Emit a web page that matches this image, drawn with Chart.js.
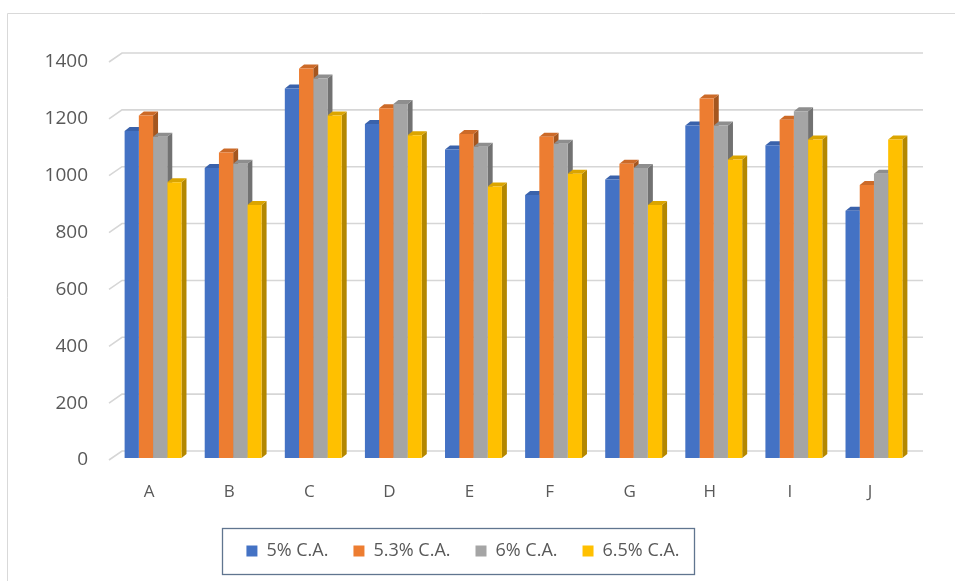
<!DOCTYPE html>
<html>
<head>
<meta charset="utf-8">
<script src="https://cdn.jsdelivr.net/npm/chart.js@4.4.1/dist/chart.umd.min.js"></script>
<style>
  html, body { margin: 0; padding: 0; background: #ffffff; }
  #wrap { width: 955px; height: 581px; position: relative; }
</style>
</head>
<body>
<div id="wrap"><canvas id="chart" width="955" height="581"></canvas></div>
<script>
// Categories and the four series
const categories = ['A', 'B', 'C', 'D', 'E', 'F', 'G', 'H', 'I', 'J'];
const seriesNames = ['5% C.A.', '5.3% C.A.', '6% C.A.', '6.5% C.A.'];
const ca50 = [1150, 1020, 1300, 1175, 1085, 925, 980, 1170, 1100, 870];
const ca53 = [1205, 1075, 1370, 1230, 1140, 1130, 1035, 1265, 1190, 960];
const ca60 = [1130, 1035, 1335, 1245, 1095, 1105, 1020, 1170, 1220, 1000];
const ca65 = [970, 890, 1205, 1135, 955, 1000, 890, 1050, 1120, 1120];
const yMin = 0, yMax = 1400, yStep = 200;

// Styling
const FONT = "'Open Sans', 'Noto Sans', sans-serif";
const TEXT_COLOR = '#595959';
const faceColors = ['#4472C4', '#ED7D31', '#A5A5A5', '#FFC000'];
const topColors  = ['#3A62AB', '#CC6A28', '#8E8E8E', '#DBA500'];
const sideColors = ['#2C4F8E', '#A4561F', '#727272', '#B38700'];

const WALL_DX = 13, WALL_DY = 9;     // depth of the back wall
const COL_DX = 5, COL_DY = 4;        // depth of each column
const SHIFT_X = 4, SHIFT_Y = -2;     // columns stand mid-depth on the floor
const LEGEND_CX = 463, LEGEND_CY = 551;

const seriesData = [ca50, ca53, ca60, ca65];

const pseudo3d = {
  id: 'pseudo3d',
  beforeDraw(chart) {
    const { ctx, width, height } = chart;
    ctx.save();
    ctx.strokeStyle = '#d9d9d9';
    ctx.lineWidth = 1;
    ctx.beginPath();
    ctx.moveTo(7.5, height);
    ctx.lineTo(7.5, 13.5);
    ctx.lineTo(width, 13.5);
    ctx.stroke();
    ctx.restore();
  },
  afterLayout(chart) {
    const lg = chart.legend;
    if (!lg) return;
    const opts = lg.options.labels;
    const fs = opts.font.size;
    const itemH = Math.max(fs, opts.boxHeight);
    const dx = LEGEND_CX - (lg.left + lg.right) / 2;
    lg.left += dx; lg.right += dx;
    const h = lg.height;
    lg.top = LEGEND_CY - opts.padding - itemH / 2;
    lg.bottom = lg.top + h;
  },
  beforeDatasetsDraw(chart) {
    const { ctx, chartArea: a, scales } = chart;
    const y = scales.y;
    // back wall gridlines with their receding floor edge
    ctx.save();
    ctx.strokeStyle = '#d6d6d6';
    ctx.lineWidth = 1.6;
    y.ticks.forEach(t => {
      const py = y.getPixelForValue(t.value);
      ctx.beginPath();
      ctx.moveTo(a.left, py);
      ctx.lineTo(a.left + WALL_DX, py - WALL_DY);
      ctx.lineTo(a.right + WALL_DX, py - WALL_DY);
      ctx.stroke();
    });
    ctx.restore();

    // side and top faces of every column, front faces follow from Chart.js
    ctx.save();
    ctx.translate(SHIFT_X, SHIFT_Y);
    chart.data.datasets.forEach((ds, i) => {
      const meta = chart.getDatasetMeta(i);
      meta.data.forEach(bar => {
        const p = bar.getProps(['x', 'y', 'base', 'width'], true);
        const l = p.x - p.width / 2, r = p.x + p.width / 2;
        ctx.fillStyle = sideColors[i];
        ctx.beginPath();
        ctx.moveTo(r, p.y);
        ctx.lineTo(r + COL_DX, p.y - COL_DY);
        ctx.lineTo(r + COL_DX, p.base - COL_DY);
        ctx.lineTo(r, p.base);
        ctx.closePath();
        ctx.fill();
        ctx.fillStyle = topColors[i];
        ctx.beginPath();
        ctx.moveTo(l, p.y);
        ctx.lineTo(l + COL_DX, p.y - COL_DY);
        ctx.lineTo(r + COL_DX, p.y - COL_DY);
        ctx.lineTo(r, p.y);
        ctx.closePath();
        ctx.fill();
      });
    });
  },
  afterDatasetsDraw(chart) {
    chart.ctx.restore();
  },
  afterDraw(chart) {
    const lg = chart.legend;
    if (!lg || !lg.lineWidths) return;
    // legend row spans the same width Chart.js centres between left and right
    const pad = lg.options.labels.padding;
    const rowW = lg.lineWidths[0] - pad;
    const startX = (lg.left + lg.right) / 2 - rowW / 2;
    const ctx = chart.ctx;
    ctx.save();
    ctx.strokeStyle = '#60758f';
    ctx.lineWidth = 1.3;
    ctx.strokeRect(Math.round(startX - 24) + 0.5, Math.round(LEGEND_CY - 23) + 0.5,
                   Math.round(rowW + 39), 46);
    ctx.restore();
  }
};

new Chart(document.getElementById('chart'), {
  type: 'bar',
  data: {
    labels: categories,
    datasets: seriesNames.map((name, i) => ({
      label: name,
      data: seriesData[i],
      backgroundColor: faceColors[i],
      borderWidth: 0,
      categoryPercentage: 0.71,
      barPercentage: 1.0
    }))
  },
  options: {
    responsive: false,
    animation: false,
    devicePixelRatio: 1,
    layout: { padding: { left: 0, right: 45, top: 62, bottom: 20 } },
    scales: {
      x: {
        grid: { display: false, drawTicks: false },
        border: { display: false },
        ticks: { color: TEXT_COLOR, font: { family: FONT, size: 17 }, padding: 22 },
        afterFit(scale) { scale.height = 48; }
      },
      y: {
        min: yMin,
        max: yMax,
        grid: { display: false, drawTicks: false },
        border: { display: false },
        ticks: {
          stepSize: yStep,
          color: TEXT_COLOR,
          font: { family: FONT, size: 19 },
          padding: 21,
          callback: v => String(v)
        },
        afterFit(scale) { scale.width = 109; }
      }
    },
    plugins: {
      legend: {
        position: 'bottom',
        labels: {
          color: TEXT_COLOR,
          font: { family: FONT, size: 18 },
          boxWidth: 11,
          boxHeight: 11,
          padding: 25
        }
      },
      tooltip: { enabled: false }
    }
  },
  plugins: [pseudo3d]
});
</script>
</body>
</html>
